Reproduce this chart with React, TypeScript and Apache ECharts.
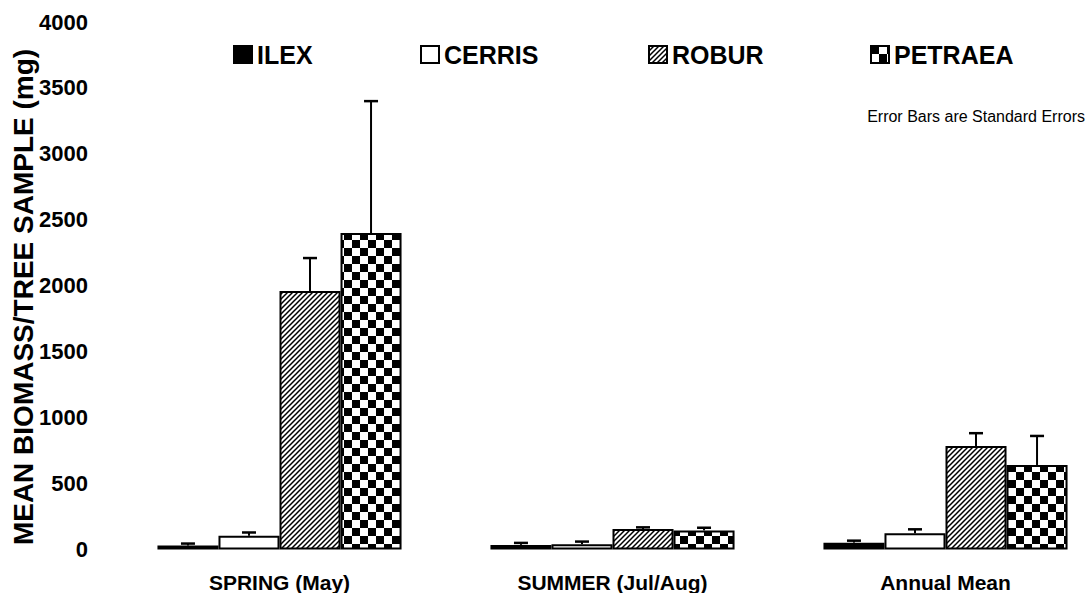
import React, { useEffect, useRef } from "react";
import * as echarts from "echarts";

const categories = ["SPRING (May)", "SUMMER (Jul/Aug)", "Annual Mean"];
const species = ["ILEX", "CERRIS", "ROBUR", "PETRAEA"];
const ilex = [30, 35, 52];
const cerris = [104, 40, 123];
const robur = [1960, 155, 785];
const petraea = [2400, 145, 641];
const ilexSE = [15, 15, 15];
const cerrisSE = [25, 20, 30];
const roburSE = [250, 13, 97];
const petraeaSE = [1000, 20, 220];
const yTicks = [0, 500, 1000, 1500, 2000, 2500, 3000, 3500, 4000];

const GAP = 0.267;
const FONT = "Arial, 'Liberation Sans', Helvetica, sans-serif";
const legendLefts = [233, 420, 648, 870];

function makeHatch(): HTMLCanvasElement {
  const c = document.createElement("canvas");
  const s = 5;
  c.width = s;
  c.height = s;
  const ctx = c.getContext("2d")!;
  ctx.fillStyle = "#fff";
  ctx.fillRect(0, 0, s, s);
  ctx.strokeStyle = "#000";
  ctx.lineWidth = 1.5;
  ctx.beginPath();
  ctx.moveTo(-1, s + 1);
  ctx.lineTo(s + 1, -1);
  ctx.moveTo(-1, 1);
  ctx.lineTo(1, -1);
  ctx.moveTo(s - 1, s + 1);
  ctx.lineTo(s + 1, s - 1);
  ctx.stroke();
  return c;
}

function makeChecker(): HTMLCanvasElement {
  const c = document.createElement("canvas");
  const s = 16;
  c.width = s;
  c.height = s;
  const ctx = c.getContext("2d")!;
  ctx.fillStyle = "#fff";
  ctx.fillRect(0, 0, s, s);
  ctx.fillStyle = "#000";
  ctx.fillRect(0, 0, 8, 8);
  ctx.fillRect(8, 8, 8, 8);
  return c;
}

export default function App() {
  const ref = useRef<HTMLDivElement>(null);
  useEffect(() => {
    if (!ref.current) return;
    const chart = echarts.init(ref.current, null, { renderer: "svg" });
    const hatch = makeHatch();
    const checker = makeChecker();
    const fills: any[] = [
      "#000",
      "#fff",
      { image: hatch.toDataURL(), repeat: "repeat", imageWidth: 5, imageHeight: 5 },
      { image: checker.toDataURL(), repeat: "repeat", imageWidth: 16, imageHeight: 16 },
    ];
    const values = [ilex, cerris, robur, petraea];
    const ses = [ilexSE, cerrisSE, roburSE, petraeaSE];

    const barSeries = species.map((name, i) => ({
      name,
      type: "bar",
      data: values[i],
      barGap: "0%",
      barCategoryGap: GAP * 100 + "%",
      itemStyle: { color: fills[i], borderColor: "#000", borderWidth: 2 },
      z: 2,
    }));

    const errSeries = species.map((name, i) => ({
      name: name + " SE",
      type: "custom",
      z: 3,
      data: values[i].map((v, k) => [k, v, v + ses[i][k]]),
      renderItem: (params: any, api: any) => {
        const cat = api.value(0);
        const base = api.coord([cat, api.value(1)]);
        const top = api.coord([cat, api.value(2)]);
        const band = api.size([1, 0])[0];
        const barW = (band * (1 - GAP)) / 4;
        const x = base[0] + (i - 1.5) * barW;
        return {
          type: "group",
          children: [
            {
              type: "line",
              shape: { x1: x, y1: base[1], x2: x, y2: top[1] },
              style: { stroke: "#000", lineWidth: 2 },
            },
            {
              type: "line",
              shape: { x1: x - 7, y1: top[1], x2: x + 7, y2: top[1] },
              style: { stroke: "#000", lineWidth: 2.5 },
            },
          ],
        };
      },
    }));

    const legends = species.map((name, i) => ({
      data: [name],
      left: legendLefts[i],
      top: 42,
      padding: 0,
      itemWidth: 18,
      itemHeight: 17,
      itemGap: 6,
      icon: "rect",
      textStyle: { fontSize: 25, fontWeight: "bold", color: "#000", fontFamily: FONT },
    }));

    chart.setOption({
      animation: false,
      backgroundColor: "#fff",
      textStyle: { fontFamily: FONT },
      legend: legends,
      graphic: [
        {
          type: "text",
          x: 1085,
          y: 116,
          style: {
            text: "Error Bars are Standard Errors",
            fontSize: 16,
            fontFamily: FONT,
            fill: "#000",
            align: "right",
            verticalAlign: "middle",
          },
        },
        {
          type: "text",
          x: 23,
          y: 297,
          rotation: Math.PI / 2,
          style: {
            text: "MEAN BIOMASS/TREE SAMPLE (mg)",
            fontSize: 28,
            fontWeight: "bold",
            fontFamily: FONT,
            fill: "#000",
            align: "center",
            verticalAlign: "middle",
          },
        },
      ],
      grid: { left: 113, top: 22, width: 999, height: 527.5 },
      xAxis: {
        type: "category",
        data: categories,
        axisLine: { show: false },
        axisTick: { show: false },
        axisLabel: { fontSize: 21, fontWeight: "bold", color: "#000", margin: 22, fontFamily: FONT },
      },
      yAxis: {
        type: "value",
        min: 0,
        max: 4000,
        interval: 500,
        splitLine: { show: false },
        axisLine: { show: false },
        axisTick: { show: false },
        axisLabel: {
          fontSize: 22,
          fontWeight: "bold",
          color: "#000",
          margin: 25,
          fontFamily: FONT,
          formatter: (v: number) => (yTicks.includes(v) ? String(v) : ""),
        },
      },
      series: [...barSeries, ...errSeries],
    });
    return () => chart.dispose();
  }, []);
  return (
    <div style={{ position: "absolute", left: 0, top: 0, width: 1089, height: 593, overflow: "hidden" }}>
      <div ref={ref} style={{ width: 1140, height: 593 }} />
    </div>
  );
}
